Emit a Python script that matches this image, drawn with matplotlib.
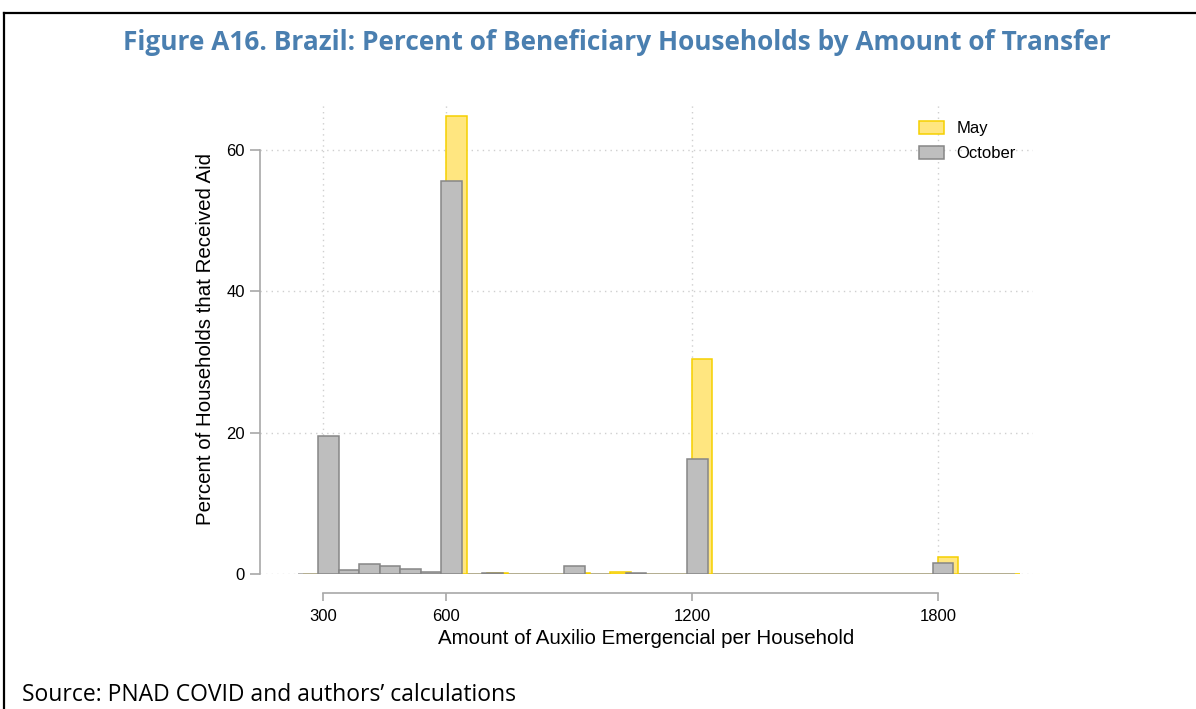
import matplotlib
matplotlib.use("Agg")
import matplotlib.pyplot as plt
from matplotlib.lines import Line2D
from matplotlib.patches import Patch


# histogram bins (left edge, width 50)
BIN_WIDTH = 50
oct_left = [288, 338, 388, 438, 488, 538, 588, 688, 888, 1038, 1188, 1788]
oct_pct = [19.5, 0.6, 1.4, 1.15, 0.65, 0.25, 55.6, 0.1, 1.15, 0.2, 16.3, 1.55]
may_left = [600, 700, 900, 1000, 1200, 1800]
may_pct = [64.8, 0.1, 0.1, 0.25, 30.4, 2.45]

x_ticks = [300, 600, 1200, 1800]
y_ticks = [0, 20, 40, 60]

title = "Figure A16. Brazil: Percent of Beneficiary Households by Amount of Transfer"
x_label = "Amount of Auxilio Emergencial per Household"
y_label = "Percent of Households that Received Aid"
source = "Source: PNAD COVID and authors\u2019 calculations"

MAY_FACE, MAY_EDGE = "#ffe680", "#f5d000"
OCT_FACE, OCT_EDGE = "#bebebe", "#868686"
GRID = "#cfcfcf"
AXIS = "#a8a8a8"

plt.rcParams['font.family'] = ['Liberation Sans', 'DejaVu Sans']

fig = plt.figure(figsize=(11.96, 7.09), dpi=100)
ax = fig.add_axes([260 / 1196, 135 / 709, 773 / 1196, 470 / 709])

# zero-height bins show up as a line along the baseline
ax.hlines(0, 250, 2000, color=MAY_EDGE, lw=1.2, zorder=2)
ax.hlines(0, 238, 1988, color=AXIS, lw=1.2, zorder=2)

ax.bar(may_left, may_pct, width=BIN_WIDTH, align="edge",
       facecolor=MAY_FACE, edgecolor=MAY_EDGE, linewidth=1.1, zorder=3, label="May")
ax.bar(oct_left, oct_pct, width=BIN_WIDTH, align="edge",
       facecolor=OCT_FACE, edgecolor=OCT_EDGE, linewidth=1.1, zorder=4, label="October")

ax.set_xlim(146, 2032)
ax.set_ylim(0, 66.5)

ax.set_xticks(x_ticks)
ax.set_yticks(y_ticks)
ax.tick_params(axis="both", colors=AXIS, labelcolor="black", labelsize=12, width=1.2)
ax.tick_params(axis="x", length=6, pad=5)
ax.tick_params(axis="y", length=7, pad=4)

ax.grid(True, color=GRID, linestyle=(0, (1, 3)), linewidth=1)
ax.set_axisbelow(True)

for s in ["top", "right"]:
    ax.spines[s].set_visible(False)
ax.spines["left"].set_bounds(0, 60)
ax.spines["bottom"].set_bounds(300, 1800)
ax.spines["bottom"].set_position(("outward", 14))
ax.spines["left"].set_color(AXIS)
ax.spines["bottom"].set_color(AXIS)
ax.spines["left"].set_linewidth(1.2)
ax.spines["bottom"].set_linewidth(1.2)

ax.set_xlabel(x_label, fontsize=14.8, labelpad=4)
ax.set_ylabel(y_label, fontsize=14.8, labelpad=8)

handles = [Patch(facecolor=MAY_FACE, edgecolor=MAY_EDGE, linewidth=1.1, label="May"),
           Patch(facecolor=OCT_FACE, edgecolor=OCT_EDGE, linewidth=1.1, label="October")]
ax.legend(handles=handles, loc="upper right", bbox_to_anchor=(0.997, 0.996), frameon=False,
          fontsize=12, handlelength=1.5, handleheight=0.8, labelspacing=0.6, handletextpad=0.75)

fig.text(617 / 1196, 1 - 42 / 709, title, ha="center", va="center", fontsize=18.9,
         fontweight="bold", color="#4a7fb0", family=["Open Sans", "DejaVu Sans"])
fig.text(22 / 1196, 1 - 695 / 709, source, ha="left", va="center", fontsize=16.5,
         family=["Open Sans", "DejaVu Sans"])

# frame lines at top and left of the page
fig.add_artist(Line2D([4 / 1196, 1], [1 - 13 / 709, 1 - 13 / 709], color="black", lw=1.6))
fig.add_artist(Line2D([4 / 1196, 4 / 1196], [0, 1 - 13 / 709], color="black", lw=1.6))

fig.savefig("out.png", dpi=100)
